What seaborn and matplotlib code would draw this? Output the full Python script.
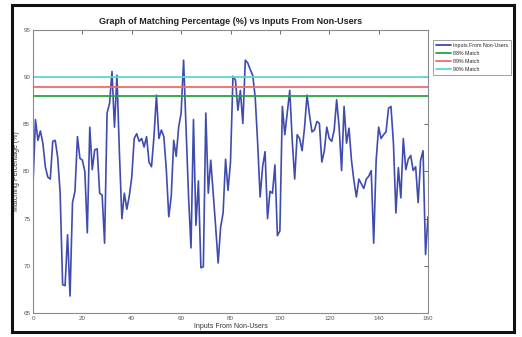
import numpy as np
import pandas as pd
import matplotlib
matplotlib.use("Agg")
import matplotlib.pyplot as plt
import seaborn as sns
from matplotlib.patches import Rectangle

# Matching percentage for each input from non-users (index 0..160)
match_pct = [
    78.6, 85.5, 83.3, 84.3, 83.0, 80.5, 79.4, 79.2, 83.2, 83.3,
    81.5, 77.7, 68.0, 67.9, 73.3, 66.8, 76.7, 77.9, 83.7, 81.4,
    81.2, 80.0, 73.5, 84.7, 80.2, 82.3, 82.4, 77.7, 77.5, 72.4,
    86.2, 87.2, 90.6, 84.7, 90.2, 82.0, 75.0, 77.7, 76.0, 77.4,
    79.4, 83.5, 84.0, 83.2, 83.5, 82.6, 83.7, 81.0, 80.5, 83.7,
    88.1, 83.5, 84.4, 83.7, 80.2, 75.2, 77.4, 83.3, 81.6, 84.7,
    86.2, 91.8, 84.7, 77.4, 71.9, 85.5, 74.3, 79.0, 69.8, 69.9,
    86.2, 77.7, 81.2, 77.7, 74.1, 70.3, 74.1, 75.6, 81.3, 78.0,
    81.0, 90.1, 89.7, 86.5, 88.6, 85.1, 91.8, 91.5, 90.8, 90.2,
    87.9, 83.0, 77.3, 80.5, 82.1, 75.0, 77.9, 77.7, 80.7, 73.2,
    73.7, 86.9, 83.9, 86.2, 88.6, 83.3, 79.2, 83.9, 83.5, 82.2,
    84.7, 88.1, 86.0, 84.2, 84.4, 85.3, 85.1, 81.0, 82.2, 84.7,
    83.5, 83.2, 84.4, 87.6, 84.7, 80.1, 86.9, 83.0, 84.6, 81.2,
    79.0, 77.3, 79.2, 78.7, 78.2, 79.2, 79.5, 80.1, 72.4, 81.2,
    84.7, 83.5, 83.9, 84.2, 86.7, 86.9, 83.0, 75.6, 80.4, 77.2,
    83.5, 80.2, 81.3, 81.7, 80.1, 80.5, 76.7, 81.2, 82.2, 71.2,
    75.2,
]
inputs = list(range(len(match_pct)))

# Threshold levels shown as reference lines
threshold_labels = ["88% Match", "89% Match", "90% Match"]
threshold_values = [88, 89, 90]
threshold_colors = ["#2ea043", "#f26b6b", "#5fd3dc"]

x_ticks = [0, 20, 40, 60, 80, 100, 120, 140, 160]
y_ticks = [65, 70, 75, 80, 85, 90, 95]

sns.set_style("white")
plt.rcParams["font.family"] = ["Liberation Sans", "DejaVu Sans"]

fig = plt.figure(figsize=(5.22, 3.37), dpi=100)
ax = fig.add_axes([33 / 522, 1 - 313 / 337, (428 - 33) / 522, (313 - 30) / 337])

df = pd.DataFrame({"x": inputs, "y": match_pct})
sns.lineplot(data=df, x="x", y="y", ax=ax, color="#3f4bb0", linewidth=1.2,
             label="Inputs From Non-Users")

x_span = [x_ticks[0], x_ticks[-1]]
for lab, val, col in zip(threshold_labels, threshold_values, threshold_colors):
    tdf = pd.DataFrame({"x": x_span, "y": [val, val]})
    sns.lineplot(data=tdf, x="x", y="y", ax=ax, color=col, linewidth=1.3, label=lab)

ax.set_xlim(x_ticks[0], x_ticks[-1])
ax.set_ylim(y_ticks[0], y_ticks[-1])
ax.set_xticks(x_ticks)
ax.set_yticks(y_ticks)
ax.tick_params(direction="in", length=3, width=0.6, labelsize=4.5,
               colors="#555555", top=True, right=True, pad=2)
for s in ax.spines.values():
    s.set_color("#8a8a8a")
    s.set_linewidth(0.8)

ax.set_title("Graph of Matching Percentage (%) vs Inputs From Non-Users",
             fontsize=6.5, fontweight="bold", color="#222222", pad=4)
ax.set_xlabel("Inputs From Non-Users", fontsize=5, color="#333333")
ax.set_ylabel("Matching Percentage (%)", fontsize=5, color="#333333")
ax.xaxis.set_label_coords(0.5, -0.035)
ax.yaxis.set_label_coords(-0.033, 0.5)

leg = ax.legend(loc="upper left", bbox_to_anchor=(1.012, 0.965), fontsize=3.8,
                frameon=True, fancybox=False, handlelength=2.8, borderpad=0.6,
                labelspacing=0.55, handletextpad=0.4, borderaxespad=0)
leg.get_frame().set_edgecolor("#8a8a8a")
leg.get_frame().set_linewidth(0.7)
for line in leg.get_lines():
    line.set_linewidth(1.3)

# Outer frame around the figure
fig.patches.append(Rectangle((12 / 522, 1 - 332 / 337), (514 - 12) / 522, (332 - 5) / 337,
                             transform=fig.transFigure, fill=False,
                             edgecolor="#111111", linewidth=2.2))

fig.savefig("out.png", dpi=100, facecolor="white")
